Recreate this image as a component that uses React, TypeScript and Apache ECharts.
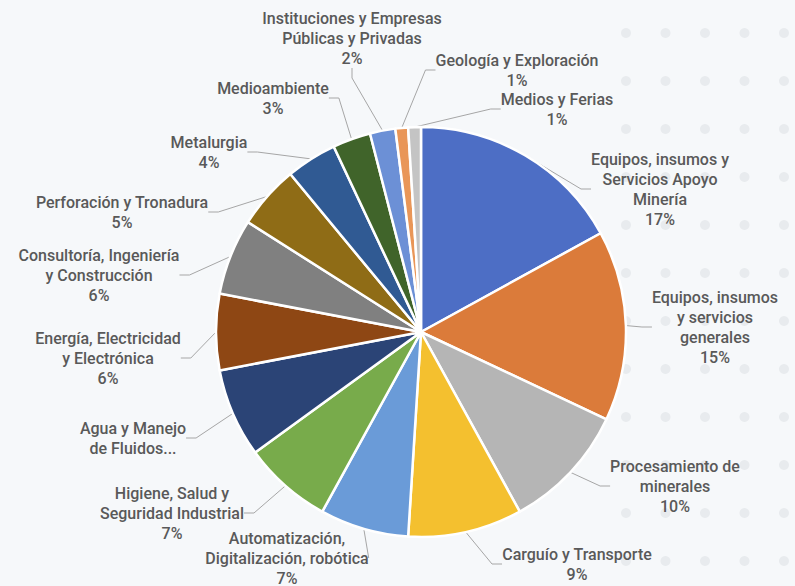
import React, { useEffect, useRef } from "react";
import * as echarts from "echarts";

const categories = [
  "Equipos, insumos y\nServicios Apoyo\nMinería",
  "Equipos, insumos\ny servicios\ngenerales",
  "Procesamiento de\nminerales",
  "Carguío y Transporte",
  "Automatización,\nDigitalización, robótica",
  "Higiene, Salud y\nSeguridad Industrial",
  "Agua y Manejo\nde Fluidos...",
  "Energía, Electricidad\ny Electrónica",
  "Consultoría, Ingeniería\ny Construcción",
  "Perforación y Tronadura",
  "Metalurgia",
  "Medioambiente",
  "Instituciones y Empresas\nPúblicas y Privadas",
  "Geología y Exploración",
  "Medios y Ferias",
];

const values = [17, 15, 10, 9, 7, 7, 7, 6, 6, 5, 4, 3, 2, 1, 1];

const colors = [
  "#4d6ec5", "#db7b3a", "#b5b5b5", "#f4c02f", "#6a9bd8",
  "#78ab4b", "#2b4476", "#8e4714", "#808080", "#8f6c16",
  "#305a93", "#40642a", "#6c90d6", "#e99658", "#c4c4c4",
];

// label block centres (layout only)
const labelX = [660, 715, 675, 577, 287, 172, 133, 108, 99, 122, 209, 273, 352, 517, 557];
const labelY = [189, 327, 486, 564, 558, 513, 438, 358, 275, 212, 152, 98, 38, 70, 109];

const dotCols = [626, 665.5, 705, 744.5, 784];
const dotRows = [33, 81, 129, 177, 225, 273, 321, 369, 417, 465, 513, 561];

export default function App() {
  const ref = useRef<HTMLDivElement>(null);
  useEffect(() => {
    if (!ref.current) return;
    const chart = echarts.init(ref.current, undefined, { renderer: "svg" });
    const dots: any[] = [];
    dotRows.forEach((y) =>
      dotCols.forEach((x) =>
        dots.push({
          type: "circle",
          shape: { cx: x, cy: y, r: 5 },
          style: { fill: "#e8ebee" },
          silent: true,
          z: 0,
        })
      )
    );
    chart.setOption({
      animation: false,
      backgroundColor: "#f6f8fa",
      graphic: dots,
      series: [
        {
          type: "pie",
          center: [421, 332],
          radius: 205,
          startAngle: 90,
          clockwise: true,
          z: 2,
          data: categories.map((c, i) => ({
            name: c,
            value: values[i],
            itemStyle: { color: colors[i] },
          })),
          itemStyle: { borderColor: "#ffffff", borderWidth: 2.5 },
          label: {
            show: true,
            position: "outside",
            fontFamily: "Roboto, sans-serif",
            fontSize: 16,
            fontWeight: 500,
            lineHeight: 20,
            color: "#595959",
            align: "center",
            formatter: (p: any) =>
              p.name.endsWith("...") ? p.name : `${p.name}\n${p.value}%`,
          },
          labelLine: {
            show: true,
            length: 10,
            length2: 10,
            lineStyle: { color: "#a6a6a6", width: 1 },
          },
          labelLayout: (p: any) => ({
            x: labelX[p.dataIndex],
            y: labelY[p.dataIndex],
            align: "center",
            verticalAlign: "middle",
          }),
          emphasis: { disabled: true },
        },
      ],
    });
    return () => chart.dispose();
  }, []);
  return (
    <div
      ref={ref}
      style={{ position: "fixed", left: 0, top: 0, width: 795, height: 586 }}
    />
  );
}
